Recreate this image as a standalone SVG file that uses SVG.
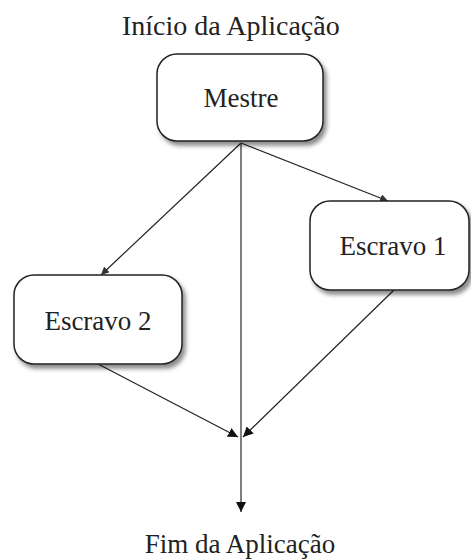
<svg xmlns="http://www.w3.org/2000/svg" width="471" height="559" viewBox="0 0 471 559">
<style>
text{font-family:"Liberation Serif","Times New Roman",serif;font-size:27px;fill:#222}
.box{fill:#fff;stroke:#222;stroke-width:1.5;filter:url(#sh)}
.c{stroke:#222;stroke-width:1.2;fill:none}
.v{stroke:#555;stroke-width:1.5;fill:none}
</style>
<defs>
<filter id="sh" x="-10%" y="-10%" width="130%" height="140%">
<feDropShadow dx="3" dy="4" stdDeviation="2" flood-color="#000" flood-opacity="0.45"/>
</filter>
<marker id="ah" viewBox="0 0 10 10" refX="10" refY="5" markerWidth="10" markerHeight="10" markerUnits="userSpaceOnUse" orient="auto">
<path d="M0,0 L10,5 L0,10 z" fill="#111"/>
</marker>
<marker id="ahs" viewBox="0 0 10 10" refX="10" refY="5" markerWidth="8" markerHeight="8" markerUnits="userSpaceOnUse" orient="auto">
<path d="M0,0 L10,5 L0,10 z" fill="#333"/>
</marker>
</defs>
<text x="122" y="35" style="font-size:28px">Início da Aplicação</text>
<g id="connectors">
<line class="c" x1="241" y1="143" x2="388" y2="201" marker-end="url(#ahs)"/>
<line class="c" x1="241" y1="143" x2="101" y2="275" marker-end="url(#ahs)"/>
<line class="v" x1="241" y1="143" x2="241" y2="512" marker-end="url(#ah)"/>
<line class="c" x1="98" y1="364" x2="238" y2="437" marker-end="url(#ah)"/>
<line class="c" x1="394" y1="290" x2="243" y2="437" marker-end="url(#ah)"/>
</g>
<g id="mestre">
<rect class="box" x="157" y="54" width="166" height="87" rx="20"/>
<text x="241" y="107" text-anchor="middle">Mestre</text>
</g>
<g id="escravo1">
<rect class="box" x="310" y="201" width="159" height="89" rx="20"/>
<text x="393" y="255" text-anchor="middle">Escravo 1</text>
</g>
<g id="escravo2">
<rect class="box" x="14" y="275" width="168" height="89" rx="20"/>
<text x="98" y="330" text-anchor="middle">Escravo 2</text>
</g>
<text x="240" y="553" text-anchor="middle">Fim da Aplicação</text>
</svg>
